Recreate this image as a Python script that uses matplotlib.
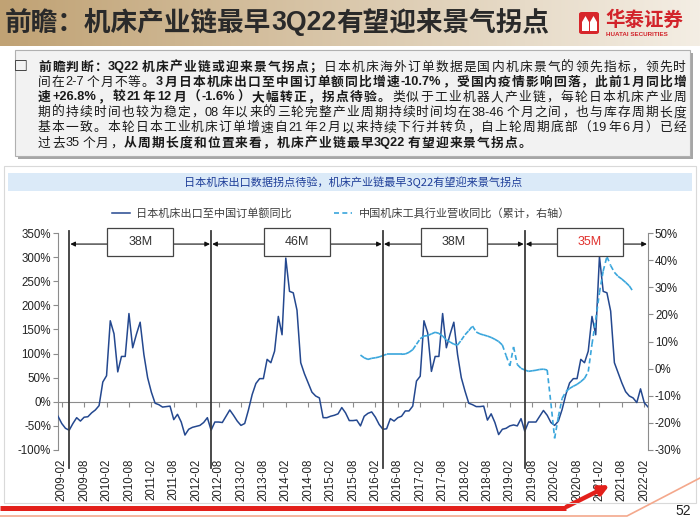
import numpy as np
import pandas as pd
import matplotlib
matplotlib.use('Agg')
import matplotlib.pyplot as plt
from matplotlib.patches import Rectangle, FancyBboxPatch, Polygon, FancyArrowPatch
from matplotlib.lines import Line2D
from matplotlib.collections import LineCollection
from matplotlib.ticker import FuncFormatter

W, H = 700, 525
CJK = ['Noto Sans CJK SC', 'DejaVu Sans']
LAT = ['Liberation Sans', 'Noto Sans CJK SC', 'DejaVu Sans']
plt.rcParams['font.family'] = LAT

# ---------------- data ----------------
months = pd.date_range('2009-01-01', '2022-03-01', freq='MS')

# 日本机床出口至中国订单额同比 (%), 2009-01 .. 2022-03
jp_orders = [
    -30, -45, -55, -59, -45, -33, -40, -32, -31, -23,
    -17, -8, 41, 54, 168, 141, 62, 94, 94, 183,
    112, 140, 165, 98, 50, 20, -3, -6, -11, -10,
    -9, -37, -26, -42, -69, -57, -53, -51, -49, -43,
    -33, -59, -42, -42, -43, -30, -17, -28, -40, -49,
    -45, -17, 15, 38, 48, 48, 88, 81, 105, 177,
    139, 298, 229, 226, 190, 81, 58, 39, 20, 12,
    8, -33, -33, -30, -28, -25, -12, -23, -39, -39,
    -38, -50, -30, -24, -21, -32, -47, -57, -56, -35,
    -40, -33, -30, -19, -19, -9, 43, 53, 168, 143,
    63, 94, 94, 183, 112, 140, 165, 98, 50, 22,
    -3, -6, -10, -10, -9, -38, -25, -43, -68, -57,
    -55, -50, -48, -50, -35, -61, -42, -42, -42, -30,
    -18, -28, -43, -49, -40, -16, 15, 39, 48, 48,
    88, 81, 105, 177, 139, 301, 229, 226, 188, 81,
    60, 39, 21, 12, 8, -1.6, 26.8, -2, -10.7,
]

# 中国机床工具行业营收同比（累计）(%), 2015-10 .. 2021-11
cn_start = '2015-10'
cn_revenue = [
    5.0, 4.0, 3.4, 3.8, 4.0, 4.3, 4.8, 5.3, 5.3, 5.3,
    5.3, 5.3, 5.4, 6.0, 7.0, 9.0, 11.0, 12.0, 12.2, 12.8,
    13.4, 13.0, 12.0, 10.6, 9.8, 9.0, 8.7, 10.5, 12.5, 14.0,
    15.7, 13.5, 12.8, 12.4, 12.0, 11.5, 10.8, 10.0, 8.7, 4.8,
    1.0, 8.0, 1.5, 0.1, -0.5, -1.0, -0.8, -0.6, -0.3, -0.2,
    -0.5, -12.8, -25.7, -17.7, -11.0, -8.5, -7.3, -6.5, -5.8, -4.8,
    -3.6, -1.1, 9.0, 18.0, 28.0, 36.0, 41.3, 38.0, 35.5, 34.0,
    33.0, 31.8, 30.5, 28.4,
]

cycle_starts = ['2009-04', '2012-06', '2016-04', '2019-06']
cycle_months = [38, 46, 38, 35]
cycle_labels = ['38M', '46M', '38M', '35M']
cycle_colors = ['#333333', '#333333', '#333333', '#e0302c']

solid_name = '日本机床出口至中国订单额同比'
dash_name = '中国机床工具行业营收同比（累计，右轴）'

c_solid = '#24488f'
c_dash = '#3aa6dc'
c_axis = '#8c8c8c'


def fx(x):
    return x / W


def fy(y):
    return 1 - y / H


fig = plt.figure(figsize=(7, 5.25), dpi=100)
renderer = fig.canvas.get_renderer()


def width_of(t):
    return t.get_window_extent(renderer).width


# ---------------- header ----------------
hax = fig.add_axes([0, fy(46), 1, 46 / H])
grad = np.linspace(0, 1, 300)
c0 = np.array([192, 162, 116]) / 255
c1 = np.array([244, 238, 228]) / 255
img = c0[None, None, :] * (1 - grad[None, :, None]) + c1[None, None, :] * grad[None, :, None]
hax.imshow(img, aspect='auto', extent=[0, 1, 0, 1])
hax.axis('off')

x = 5
for s, fam, wt in [('前瞻：机床产业链最早', CJK, 'bold'), ('3Q22', LAT, 'bold'),
                   ('有望迎来景气拐点', CJK, 'bold')]:
    t = fig.text(fx(x), fy(23), s, fontsize=19.2, family=fam, fontweight=wt,
                 color='#2a2a2a', va='center', ha='left')
    x += width_of(t)

# logo
fig.patches.append(FancyBboxPatch((fx(579), fy(34)), fx(20), 22 / H,
                                  boxstyle='round,pad=0,rounding_size=0.004',
                                  transform=fig.transFigure, facecolor='#d7262b',
                                  edgecolor='none'))
for px in (582, 590):
    fig.patches.append(Polygon([(fx(px), fy(22)), (fx(px + 3.5), fy(16)), (fx(px + 7), fy(22)),
                                (fx(px + 7), fy(31)), (fx(px), fy(31))],
                               closed=True, transform=fig.transFigure,
                               facecolor='white', edgecolor='none'))
fig.text(fx(605), fy(20), '华泰证券', fontsize=14, family=CJK, fontweight='bold',
         color='#d2232a', va='center', ha='left')
fig.text(fx(606), fy(34), 'HUATAI SECURITIES', fontsize=4.5, family=LAT, fontweight='bold',
         color='#d2232a', va='center', ha='left')

# ---------------- text box ----------------
fig.patches.append(Rectangle((fx(18), fy(159)), fx(675), 106 / H, transform=fig.transFigure,
                             facecolor='#a6a6a6', edgecolor='none'))
fig.patches.append(Rectangle((fx(15), fy(156)), fx(675), 106 / H, transform=fig.transFigure,
                             facecolor='#f2f2f2', edgecolor='#b0b0b0', lw=0.8))
fig.text(fx(21), fy(67), '□', fontsize=10, family=CJK, fontweight='bold',
         color='#111111', va='center', ha='center')

body = [
    [('前瞻判断：3Q22机床产业链或迎来景气拐点；', True),
     ('日本机床海外订单数据是国内机床景气的领先指标，领先时', False)],
    [('间在2-7个月不等。', False),
     ('3月日本机床出口至中国订单额同比增速-10.7%，受国内疫情影响回落，此前1月同比增', True)],
    [('速+26.8%，较21年12月（-1.6%）大幅转正，拐点待验。', True),
     ('类似于工业机器人产业链，每轮日本机床产业周', False)],
    [('期的持续时间也较为稳定，08年以来的三轮完整产业周期持续时间均在38-46个月之间，也与库存周期长度', False)],
    [('基本一致。本轮日本工业机床订单增速自21年2月以来持续下行并转负，自上轮周期底部（19年6月）已经', False)],
    [('过去35个月，', False), ('从周期长度和位置来看，机床产业链最早3Q22有望迎来景气拐点。', True)],
]
body_size = 9.2
em = body_size * fig.dpi / 72
last_gap = 0.5
for i, runs in enumerate(body):
    y = 67 + 15.2 * i
    items = []
    for s, bold in runs:
        wt = 'bold' if bold else 'normal'
        buf = ''
        for ch in s + '\0':
            if ch != '\0' and ord(ch) < 128:
                buf += ch
                continue
            if buf:
                t = fig.text(0, fy(y), buf, fontsize=body_size, family=LAT, fontweight=wt,
                             color='#1a1a1a', va='center', ha='left')
                items.append((t, width_of(t) + 1))
                buf = ''
            if ch != '\0':
                t = fig.text(0, fy(y), ch, fontsize=body_size, family=CJK, fontweight=wt,
                             color='#1a1a1a', va='center', ha='left')
                items.append((t, em))
    total = sum(w for _, w in items)
    if i < len(body) - 1:
        gap = (686 - 38 - total) / (len(items) - 1)
        last_gap = gap
    else:
        gap = last_gap
    xx = 38
    for t, w in items:
        t.set_x(fx(xx))
        xx += w + gap

# ---------------- chart frame ----------------
fig.patches.append(Rectangle((fx(4), fy(503)), fx(692), 337 / H, transform=fig.transFigure,
                             facecolor='none', edgecolor='#d9d9d9', lw=0.8))
fig.patches.append(Rectangle((fx(8), fy(191)), fx(684), 18 / H, transform=fig.transFigure,
                             facecolor='#dbeaf8', edgecolor='none'))
fig.text(fx(353), fy(182), '日本机床出口数据拐点待验，机床产业链最早3Q22有望迎来景气拐点',
         fontsize=8, family=CJK, color='#1f3f99', va='center', ha='center')

# ---------------- chart ----------------
ax = fig.add_axes([fx(58), fy(450), fx(590), 217 / H])
idx = np.arange(len(months))
ax.plot(idx, jp_orders, color=c_solid, lw=1.1, zorder=3)
ax.set_xlim(0, len(months) - 1)
ax.set_ylim(-100, 350)
ax.set_yticks(np.arange(-100, 351, 50))
ax.yaxis.set_major_formatter(FuncFormatter(lambda v, p: f'{v:.0f}%'))
ax.tick_params(axis='y', direction='out', length=3.5, width=0.8, color=c_axis,
               labelsize=8.3, labelcolor='#222222', pad=1.5)

tick_idx = [i for i, m in enumerate(months) if m.month in (2, 8)]
ax.set_xticks(tick_idx)
ax.set_xticklabels(months[tick_idx].strftime('%Y-%m'), rotation=90)
ax.tick_params(axis='x', length=0, labelsize=8.3, labelcolor='#222222', pad=6)
for sp in ('top', 'right', 'bottom'):
    ax.spines[sp].set_visible(False)
ax.spines['left'].set_color(c_axis)
ax.spines['left'].set_linewidth(0.8)

zero = ax.secondary_xaxis(100 / 450)
zero.set_xticks(tick_idx)
zero.set_xticklabels([])
zero.tick_params(direction='out', length=3.5, width=0.8, color=c_axis)
zero.spines['bottom'].set_color(c_axis)
zero.spines['bottom'].set_linewidth(0.8)

ax2 = ax.twinx()
ax2.set_ylim(-30, 50)
ax2.set_yticks(np.arange(-30, 51, 10))
ax2.yaxis.set_major_formatter(FuncFormatter(lambda v, p: f'{v:.0f}%'))
ax2.tick_params(axis='y', direction='out', length=3.5, width=0.8, color=c_axis,
                labelsize=8.3, labelcolor='#222222', pad=1.5)
for sp in ('top', 'left', 'bottom'):
    ax2.spines[sp].set_visible(False)
ax2.spines['right'].set_color(c_axis)
ax2.spines['right'].set_linewidth(0.8)

# dashed series: each monthly segment drawn on its own, so the dash pattern
# restarts every month (short flat steps look solid, steep ones look dashed)
cn_idx = months.get_loc(pd.Timestamp(cn_start)) + np.arange(len(cn_revenue))
pts = np.column_stack([cn_idx, cn_revenue])
segs = np.stack([pts[:-1], pts[1:]], axis=1)
lc = LineCollection(segs, colors=c_dash, linewidths=1.2, linestyles=[(0, (3, 2))], zorder=2)
ax2.add_collection(lc)

# cycle markers
xt = ax2.get_xaxis_transform()
xmax = len(months) - 1
for start, n, lab, col in zip(cycle_starts, cycle_months, cycle_labels, cycle_colors):
    s = months.get_loc(pd.Timestamp(start))
    e = s + n
    mid = (s + e) / 2
    ax2.plot([s, s], [1.01, -0.085], transform=xt, color='#3c3c3c', lw=1.3,
             clip_on=False, zorder=4)
    ax2.annotate('', xy=(s + 0.3, 0.949), xytext=(min(e, xmax) - 0.3, 0.949),
                 xycoords=xt, textcoords=xt,
                 arrowprops=dict(arrowstyle='<|-|>', color='#111111', lw=0.8,
                                 mutation_scale=7, shrinkA=0, shrinkB=0), zorder=5)
    ax2.add_patch(Rectangle((mid - 8.8, 0.894), 17.6, 0.129, transform=xt,
                            facecolor='white', edgecolor='#444444', lw=0.9,
                            clip_on=False, zorder=6))
    ax2.text(mid, 0.958, lab, transform=xt, fontsize=9, color=col,
             ha='center', va='center', zorder=7)

handles = [Line2D([], [], color=c_solid, lw=1.1),
           Line2D([], [], color=c_dash, lw=1.2, linestyle=(0, (3, 2)))]
fig.legend(handles, [solid_name, dash_name], loc='center',
           bbox_to_anchor=(fx(341), fy(213)), ncol=2, frameon=False,
           prop={'family': CJK, 'size': 8}, labelcolor='#404040',
           handlelength=1.6, handletextpad=0.6, columnspacing=3.8)

# ---------------- footer ----------------
fig.add_artist(Line2D([0, fx(566)], [fy(508), fy(508)], transform=fig.transFigure,
                      color='#e3201b', lw=3.6, solid_capstyle='butt'))
fig.add_artist(Line2D([0, fx(627), 1], [fy(516), fy(516), fy(478)],
                      transform=fig.transFigure, color='#f4a88c', lw=1.2))
fig.add_artist(FancyArrowPatch((fx(564), fy(508)), (fx(612), fy(484)),
                               transform=fig.transFigure, arrowstyle='-|>',
                               mutation_scale=14, color='#e3201b', lw=3.2))
fig.text(fx(683), fy(511), '52', fontsize=10, family=LAT, color='#222222',
         ha='center', va='center')

fig.savefig('out.png', dpi=100)
